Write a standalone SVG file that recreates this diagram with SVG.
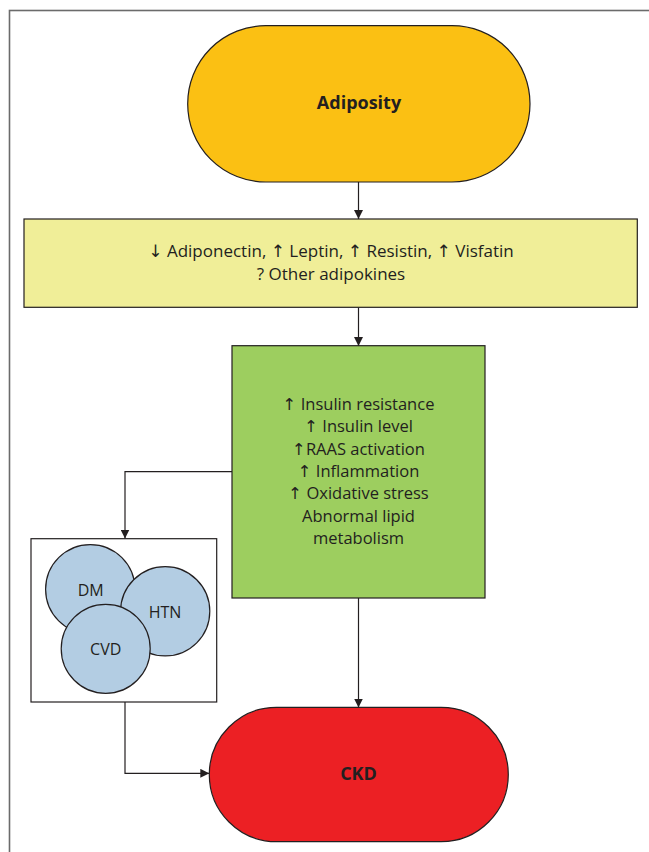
<svg xmlns="http://www.w3.org/2000/svg" width="649" height="852" viewBox="0 0 649 852">
<defs>
<marker id="arr" viewBox="0 0 10 10" refX="10" refY="5" markerWidth="9" markerHeight="9" markerUnits="userSpaceOnUse" orient="auto">
<path d="M0,0 L10,5 L0,10 Z" fill="#231f20"/>
</marker>
<style>
.shape{stroke:#231f20;stroke-width:1.2}
.t{font-family:"Open Sans","Liberation Sans","DejaVu Sans",sans-serif;fill:#231f20;text-anchor:middle}
.a{font-family:"DejaVu Sans",sans-serif;font-weight:normal}
.b{font-weight:bold;font-size:18px}
.m{font-size:17px}
.g{font-size:16.5px}
.c{font-size:16px}
.conn{fill:none;stroke:#231f20;stroke-width:1.2;marker-end:url(#arr)}
</style>
</defs>
<rect x="0" y="0" width="649" height="852" fill="#ffffff"/>
<rect x="9.5" y="10.5" width="700" height="900" fill="none" stroke="#6b6b6b" stroke-width="1.6"/>
<g id="connectors">
<path class="conn" d="M358.5,182 V219"/>
<path class="conn" d="M358.5,307.5 V346"/>
<path class="conn" d="M358.5,598 V707.5"/>
<path class="conn" d="M232,471.7 H125 V538.5"/>
<path class="conn" d="M125,702 V773.3 H209.3"/>
</g>
<g id="adiposity">
<rect class="shape" x="187.7" y="25.7" width="342.3" height="156.3" rx="78" ry="78" fill="#fbc013"/>
<text class="t b" x="359" y="109.3">Adiposity</text>
</g>
<g id="adipokines">
<rect class="shape" x="24" y="219" width="613.3" height="88.3" fill="#f0ee98"/>
<text class="t m" x="331" y="257.3"><tspan class="a">↓</tspan> Adiponectin, <tspan class="a">↑</tspan> Leptin, <tspan class="a">↑</tspan> Resistin, <tspan class="a">↑</tspan> Visfatin</text>
<text class="t m" x="331" y="280.3">? Other adipokines</text>
</g>
<g id="mechanisms">
<rect class="shape" x="232" y="345.7" width="253" height="252.3" fill="#9dce5f"/>
<text class="t g" x="358.5" y="410"><tspan class="a">↑</tspan> Insulin resistance</text>
<text class="t g" x="358.5" y="432.3"><tspan class="a">↑</tspan> Insulin level</text>
<text class="t g" x="358.5" y="454.6"><tspan class="a">↑</tspan>RAAS activation</text>
<text class="t g" x="358.5" y="477"><tspan class="a">↑</tspan> Inflammation</text>
<text class="t g" x="358.5" y="499.3"><tspan class="a">↑</tspan> Oxidative stress</text>
<text class="t g" x="358.5" y="521.6">Abnormal lipid</text>
<text class="t g" x="358.5" y="544">metabolism</text>
</g>
<g id="comorbidities">
<rect x="31" y="538.7" width="185.7" height="163.3" fill="#ffffff" stroke="#231f20" stroke-width="1.2"/>
<g id="dm">
<circle class="shape" cx="90.3" cy="589.3" r="44.7" fill="#b3cde3"/>
<text class="t c" x="90.7" y="596">DM</text>
</g>
<g id="htn">
<circle class="shape" cx="165.2" cy="611.3" r="44.6" fill="#b3cde3"/>
<text class="t c" x="165" y="618.3">HTN</text>
</g>
<g id="cvd">
<circle class="shape" cx="105.7" cy="648.8" r="44.5" fill="#b3cde3"/>
<text class="t c" x="105.7" y="655">CVD</text>
</g>
</g>
<g id="ckd">
<rect class="shape" x="209.3" y="707.3" width="299" height="134.4" rx="67.2" ry="67.2" fill="#ec2024"/>
<text class="t b" x="358.5" y="779.5">CKD</text>
</g>
</svg>
